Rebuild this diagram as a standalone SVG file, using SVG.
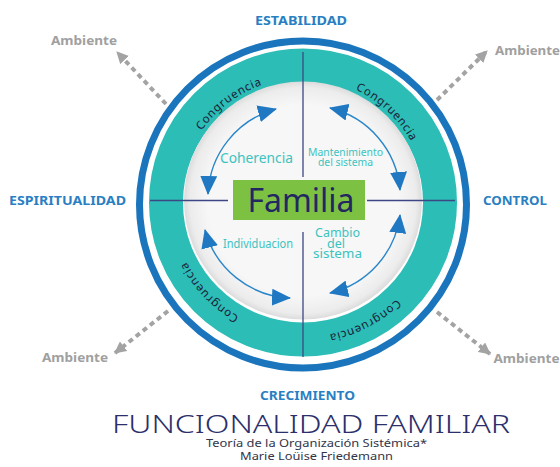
<svg xmlns="http://www.w3.org/2000/svg" xmlns:xlink="http://www.w3.org/1999/xlink" width="560" height="467" viewBox="0 0 560 467">
<style>
.lbl{font-family:"Noto Sans","Liberation Sans",sans-serif;font-weight:bold;font-size:13px;fill:#2a7fc2;}
.amb{font-family:"Noto Sans","Liberation Sans",sans-serif;font-weight:bold;font-size:13px;fill:#a0a0a0;}
.inner{font-family:"Noto Sans","Liberation Sans",sans-serif;fill:#3cc3c0;}
.cong{font-family:"Noto Sans","Liberation Sans",sans-serif;font-size:11.5px;letter-spacing:0.8px;fill:#1b2036;}
.qline{stroke:#3d4785;stroke-width:1.3;fill:none;}
.barrow{stroke:#2a86c9;stroke-width:1.4;fill:none;marker-start:url(#ah);marker-end:url(#ah);}
.garrow{stroke:#a3a3a3;stroke-width:4;stroke-dasharray:5 4;fill:none;marker-end:url(#ga);}
</style>
<defs>
<radialGradient id="disc" cx="0.5" cy="0.5" r="0.5">
<stop offset="0.8" stop-color="#f7f7f7"/>
<stop offset="0.95" stop-color="#ececec"/>
<stop offset="1" stop-color="#dcdcdc"/>
</radialGradient>
<marker id="ah" markerWidth="19" markerHeight="17" refX="18" refY="8.5" orient="auto-start-reverse" markerUnits="userSpaceOnUse">
<path d="M0,0 L19,8.5 L0,17 z" fill="#1f78c1"/>
</marker>
<marker id="ga" markerWidth="12" markerHeight="12" refX="11" refY="6" orient="auto" markerUnits="userSpaceOnUse">
<path d="M0,0 L12,6 L0,12 z" fill="#a3a3a3"/>
</marker>
<path id="pTL" d="M 180.2,184.7 A 124 124 0 0 1 320.3,79.2"/>
<path id="pTR" d="M 298.7,78.1 A 124 124 0 0 1 426.9,197.7"/>
<path id="pBR" d="M 431.7,242.6 A 135 135 0 0 1 262.4,330.7"/>
<path id="pBL" d="M 300.3,333 A 131 131 0 0 1 172,199.3"/>
</defs>
<rect width="560" height="467" fill="#ffffff"/>

<g id="wheel">
<circle cx="303" cy="204.5" r="163.5" fill="none" stroke="#1a75bc" stroke-width="7"/>
<circle cx="303" cy="202.5" r="137" fill="none" stroke="#2bbdb6" stroke-width="34"/>
<circle cx="303" cy="200.5" r="119" fill="url(#disc)"/>
<line class="qline" x1="303" y1="52" x2="303" y2="177"/>
<line class="qline" x1="303" y1="232" x2="303" y2="357"/>
<line class="qline" x1="150" y1="200.5" x2="228" y2="200.5"/>
<line class="qline" x1="367" y1="200.5" x2="455" y2="200.5"/>
</g>

<g id="congruencia">
<text class="cong"><textPath xlink:href="#pTL" href="#pTL" startOffset="50%" text-anchor="middle">Congruencia</textPath></text>
<text class="cong"><textPath xlink:href="#pTR" href="#pTR" startOffset="50%" text-anchor="middle">Congruencia</textPath></text>
<text class="cong"><textPath xlink:href="#pBR" href="#pBR" startOffset="50%" text-anchor="middle">Congruencia</textPath></text>
<text class="cong"><textPath xlink:href="#pBL" href="#pBL" startOffset="50%" text-anchor="middle">Congruencia</textPath></text>
</g>

<g id="familia">
<rect x="233" y="180" width="132" height="40" fill="#7dc143"/>
<text x="301" y="212" text-anchor="middle" font-family="'Noto Sans','Liberation Sans',sans-serif" font-size="33" fill="#232761" textLength="107" lengthAdjust="spacingAndGlyphs">Familia</text>
</g>

<g id="coherencia"><text class="inner" x="256.5" y="163" text-anchor="middle" font-size="14" textLength="73" lengthAdjust="spacingAndGlyphs">Coherencia</text></g>
<g id="mantenimiento">
<text class="inner" x="345.5" y="156" text-anchor="middle" font-size="10" textLength="75" lengthAdjust="spacingAndGlyphs">Mantenimiento</text>
<text class="inner" x="345.5" y="165.5" text-anchor="middle" font-size="10" textLength="55" lengthAdjust="spacingAndGlyphs">del sistema</text>
</g>
<g id="individuacion"><text class="inner" x="258" y="248" text-anchor="middle" font-size="12" textLength="70" lengthAdjust="spacingAndGlyphs">Individuacion</text></g>
<g id="cambio">
<text class="inner" x="337.5" y="237" text-anchor="middle" font-size="12" textLength="45" lengthAdjust="spacingAndGlyphs">Cambio</text>
<text class="inner" x="336" y="247.5" text-anchor="middle" font-size="12" textLength="18" lengthAdjust="spacingAndGlyphs">del</text>
<text class="inner" x="337.5" y="258" text-anchor="middle" font-size="12" textLength="49" lengthAdjust="spacingAndGlyphs">sistema</text>
</g>

<g id="estabilidad"><text class="lbl" x="301" y="25" text-anchor="middle" textLength="92" lengthAdjust="spacingAndGlyphs">ESTABILIDAD</text></g>
<g id="espiritualidad"><text class="lbl" x="67.5" y="205" text-anchor="middle" textLength="117" lengthAdjust="spacingAndGlyphs">ESPIRITUALIDAD</text></g>
<g id="control"><text class="lbl" x="515" y="205" text-anchor="middle" textLength="64" lengthAdjust="spacingAndGlyphs">CONTROL</text></g>
<g id="crecimiento"><text class="lbl" x="307.5" y="400" text-anchor="middle" textLength="95" lengthAdjust="spacingAndGlyphs">CRECIMIENTO</text></g>

<g id="ambiente-tl"><text class="amb" x="84" y="45" text-anchor="middle" textLength="66" lengthAdjust="spacingAndGlyphs">Ambiente</text></g>
<g id="ambiente-tr"><text class="amb" x="527.5" y="55" text-anchor="middle" textLength="65" lengthAdjust="spacingAndGlyphs">Ambiente</text></g>
<g id="ambiente-br"><text class="amb" x="526.5" y="363" text-anchor="middle" textLength="66" lengthAdjust="spacingAndGlyphs">Ambiente</text></g>
<g id="ambiente-bl"><text class="amb" x="75" y="362" text-anchor="middle" textLength="66" lengthAdjust="spacingAndGlyphs">Ambiente</text></g>

<g id="connectors">
<path class="barrow" d="M 208,194 A 92 92 0 0 1 276,109"/>
<path class="barrow" d="M 330,108 A 92 92 0 0 1 400,190"/>
<path class="barrow" d="M 400,215 A 92 92 0 0 1 330,293"/>
<path class="barrow" d="M 290,298 A 92 92 0 0 1 205,230"/>
<path class="garrow" d="M 166,104 L 117,52"/>
<path class="garrow" d="M 437,100 L 487,51"/>
<path class="garrow" d="M 437,312 L 490,354"/>
<path class="garrow" d="M 168,311 L 115,353"/>
</g>

<g id="title">
<text x="311" y="433" text-anchor="middle" font-family="'Noto Sans','Liberation Sans',sans-serif" font-weight="300" font-size="25" fill="#2b2f6b" textLength="398" lengthAdjust="spacingAndGlyphs">FUNCIONALIDAD FAMILIAR</text>
<text x="316.5" y="446.5" text-anchor="middle" font-family="'Noto Sans','Liberation Sans',sans-serif" font-size="11" fill="#33364a" textLength="221" lengthAdjust="spacingAndGlyphs">Teoría de la Organización Sistémica*</text>
<text x="316.5" y="460" text-anchor="middle" font-family="'Noto Sans','Liberation Sans',sans-serif" font-size="11.5" fill="#33364a" textLength="153" lengthAdjust="spacingAndGlyphs">Marie Loüise Friedemann</text>
</g>
</svg>
